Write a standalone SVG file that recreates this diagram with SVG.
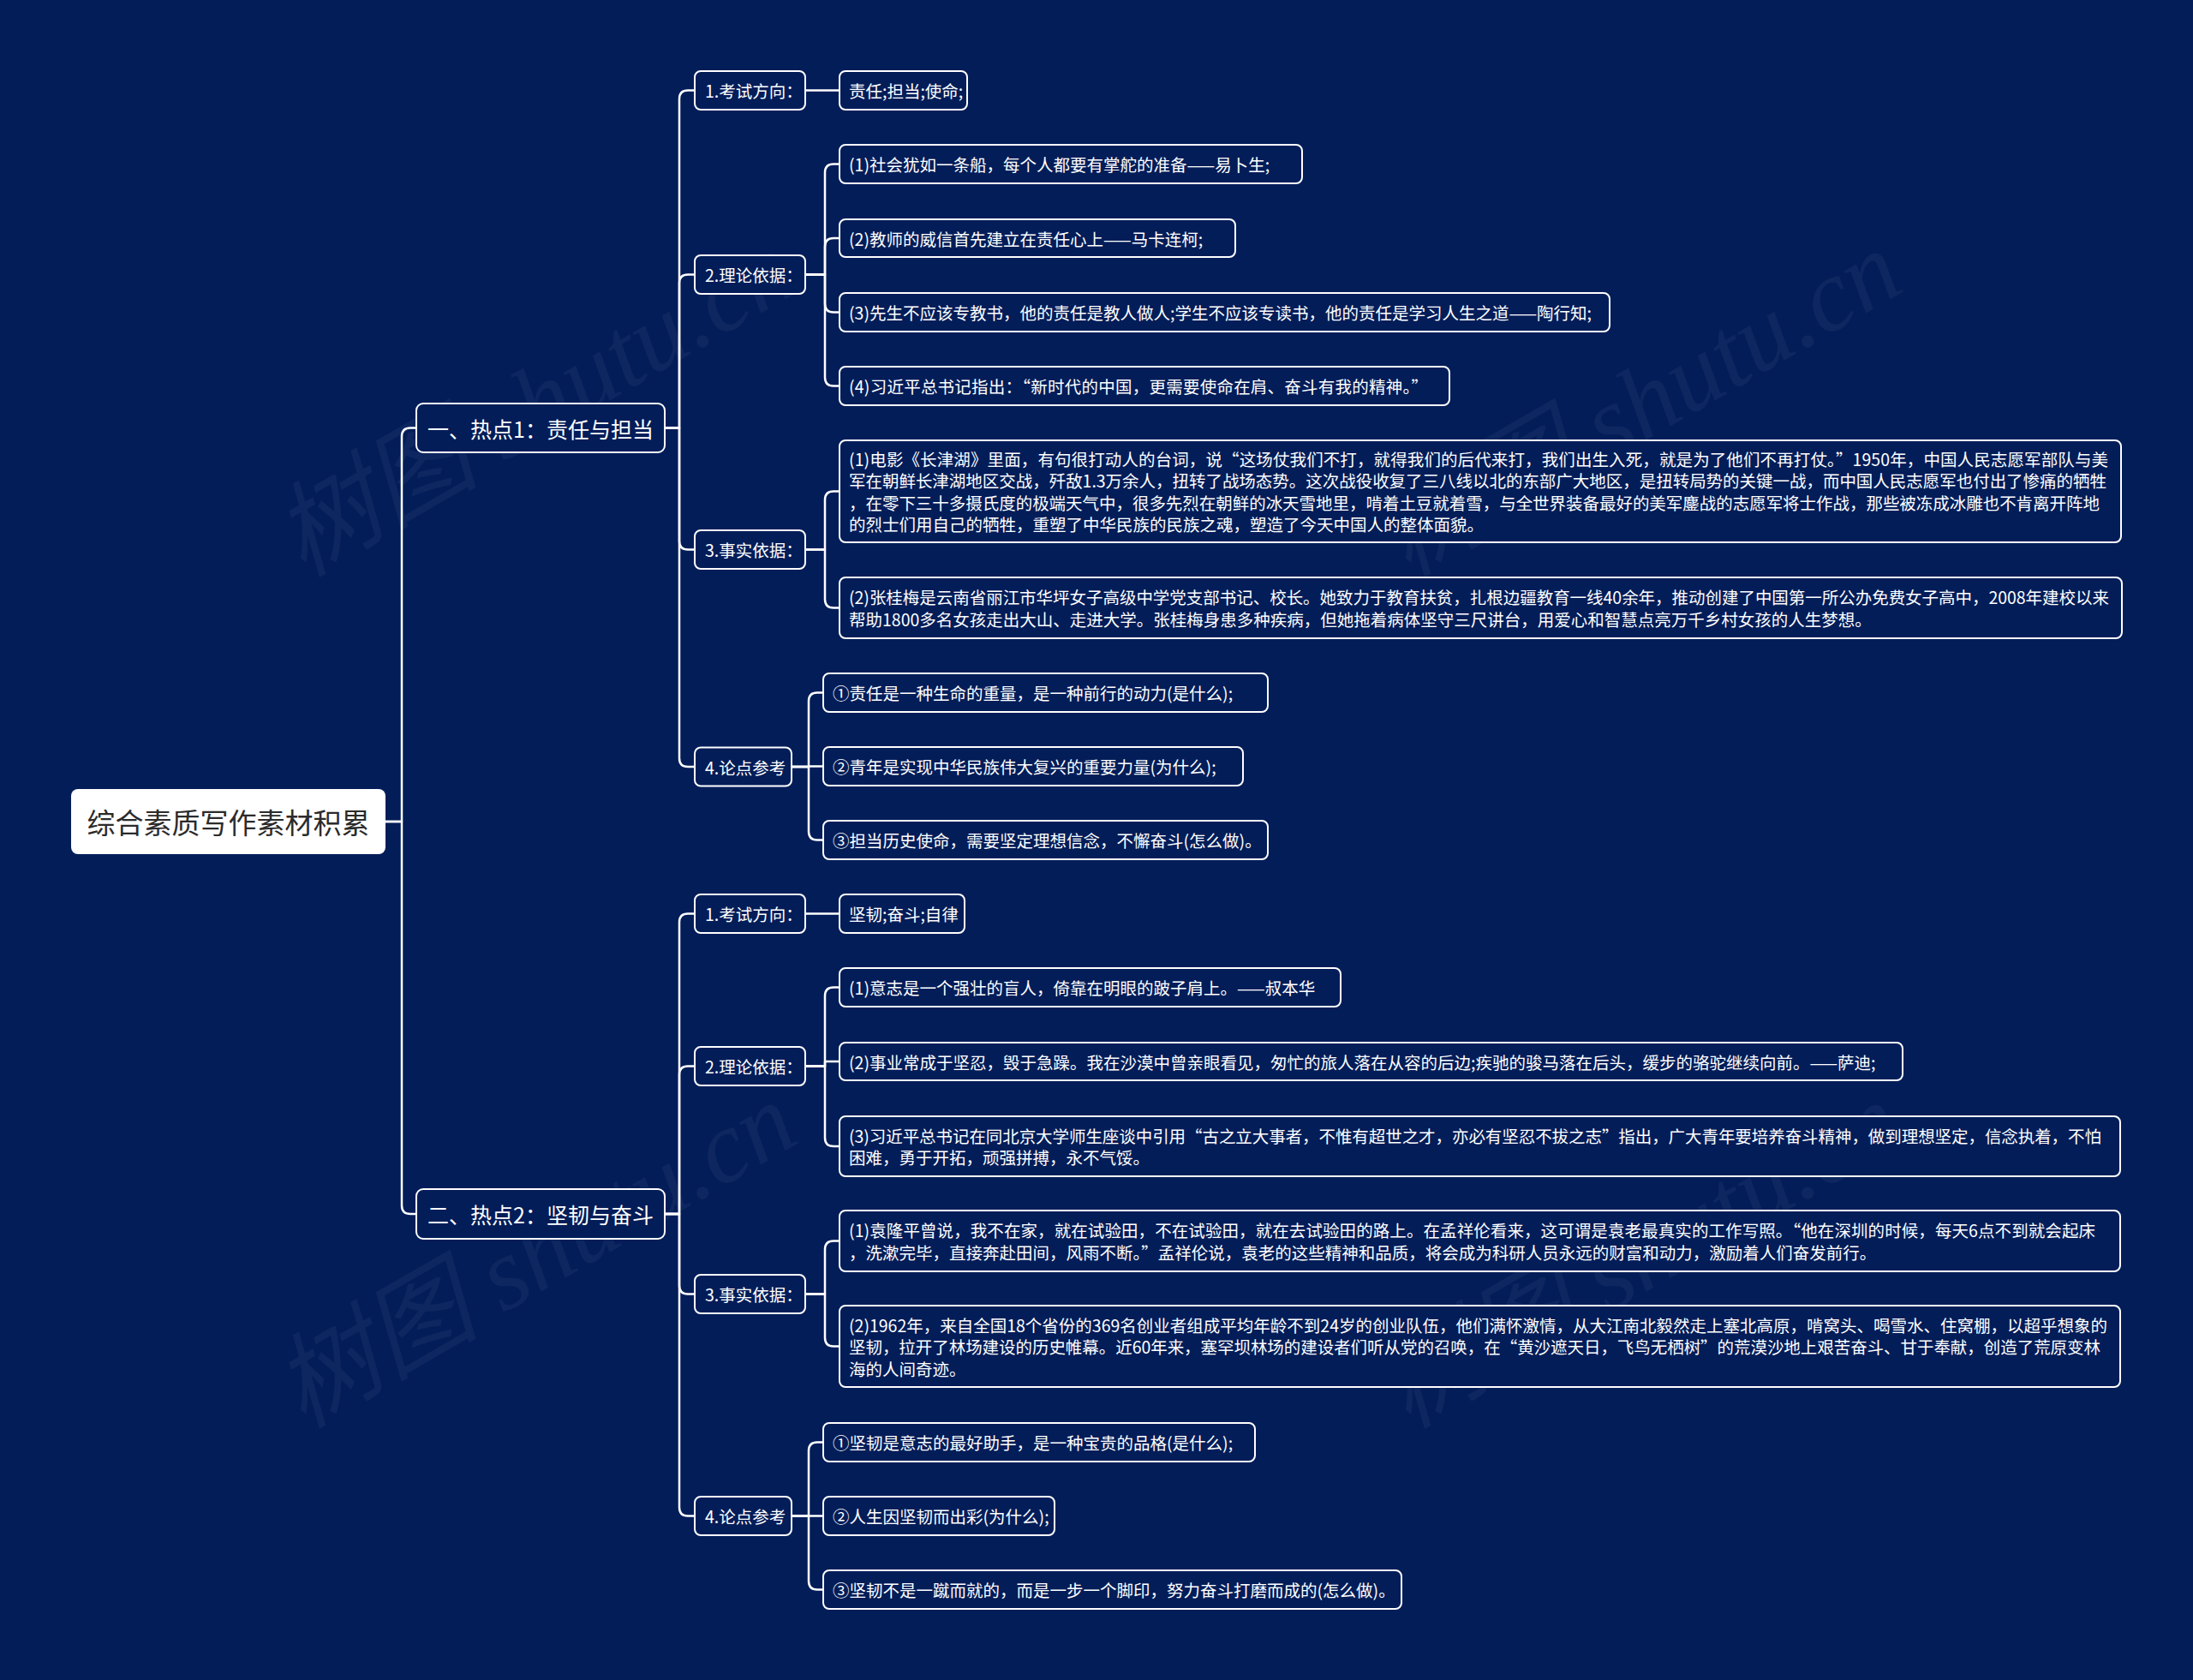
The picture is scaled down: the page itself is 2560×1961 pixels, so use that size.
<svg xmlns="http://www.w3.org/2000/svg" width="2560" height="1961" viewBox="0 0 2560 1961">
<style>
.bg{fill:#031d59}
.box{fill:#031d59;stroke:#ffffff;stroke-width:2}
.rootbox{fill:#ffffff;stroke:none}
.t{fill:#ffffff;font-family:"Noto Sans CJK SC","Noto Sans",sans-serif;font-size:19.5px;dominant-baseline:central}
.t1{font-size:25px}
.tr{fill:#2b2b2b;font-family:"Noto Sans CJK SC","Noto Sans",sans-serif;font-size:33px;dominant-baseline:central}
.conn{fill:none;stroke:#ffffff;stroke-width:2.5;stroke-linejoin:round}
.wm{fill:#ffffff;opacity:0.045;font-family:"Liberation Serif","Noto Sans CJK SC",serif;font-size:120px;font-style:italic}
</style>
<rect class="bg" x="0" y="0" width="2560" height="1961"/>
<g id="watermarks">
<text class="wm" text-anchor="middle" transform="translate(645,506) rotate(-30)">树图 shutu.cn</text>
<text class="wm" text-anchor="middle" transform="translate(1935,506) rotate(-30)">树图 shutu.cn</text>
<text class="wm" text-anchor="middle" transform="translate(645,1500) rotate(-30)">树图 shutu.cn</text>
<text class="wm" text-anchor="middle" transform="translate(1935,1500) rotate(-30)">树图 shutu.cn</text>
</g>
<g id="connectors">
<path class="conn" d="M450 959 H469 V509.5 Q469 499.5 479 499.5 H486"/>
<path class="conn" d="M450 959 H469 V1407 Q469 1417 479 1417 H486"/>
<path class="conn" d="M776 499.5 H793 V115.5 Q793 105.5 803 105.5 H811"/>
<path class="conn" d="M776 499.5 H793 V330.5 Q793 320.5 803 320.5 H811"/>
<path class="conn" d="M776 499.5 H793 V631.5 Q793 641.5 803 641.5 H811"/>
<path class="conn" d="M776 499.5 H793 V885 Q793 895 803 895 H811"/>
<path class="conn" d="M776 1417 H793 V1076.5 Q793 1066.5 803 1066.5 H811"/>
<path class="conn" d="M776 1417 H793 V1254.5 Q793 1244.5 803 1244.5 H811"/>
<path class="conn" d="M776 1417 H793 V1500.5 Q793 1510.5 803 1510.5 H811"/>
<path class="conn" d="M776 1417 H793 V1759.5 Q793 1769.5 803 1769.5 H811"/>
<path class="conn" d="M940 105.5 H980"/>
<path class="conn" d="M940 320.5 H963 V201.5 Q963 191.5 973 191.5 H980"/>
<path class="conn" d="M940 320.5 H963 V288 Q963 278 973 278 H980"/>
<path class="conn" d="M940 320.5 H963 V354.5 Q963 364.5 973 364.5 H980"/>
<path class="conn" d="M940 320.5 H963 V440.5 Q963 450.5 973 450.5 H980"/>
<path class="conn" d="M940 641.5 H963 V583.5 Q963 573.5 973 573.5 H980"/>
<path class="conn" d="M940 641.5 H963 V699.5 Q963 709.5 973 709.5 H980"/>
<path class="conn" d="M924 895 H944 V818.5 Q944 808.5 954 808.5 H961"/>
<path class="conn" d="M924 895 H944 V894.5 H961"/>
<path class="conn" d="M924 895 H944 V970.5 Q944 980.5 954 980.5 H961"/>
<path class="conn" d="M940 1066.5 H980"/>
<path class="conn" d="M940 1244.5 H963 V1162.5 Q963 1152.5 973 1152.5 H980"/>
<path class="conn" d="M940 1244.5 H963 V1239 H980"/>
<path class="conn" d="M940 1244.5 H963 V1328 Q963 1338 973 1338 H980"/>
<path class="conn" d="M940 1510.5 H963 V1458.5 Q963 1448.5 973 1448.5 H980"/>
<path class="conn" d="M940 1510.5 H963 V1561.5 Q963 1571.5 973 1571.5 H980"/>
<path class="conn" d="M924 1769.5 H944 V1693.5 Q944 1683.5 954 1683.5 H961"/>
<path class="conn" d="M924 1769.5 H961"/>
<path class="conn" d="M924 1769.5 H944 V1845.5 Q944 1855.5 954 1855.5 H961"/>
</g>
<g id="root"><rect class="rootbox" x="83" y="921" width="367" height="76" rx="8"/><text class="tr" x="266.5" y="959" text-anchor="middle">综合素质写作素材积累</text></g>
<g id="n-a"><rect class="box" x="486" y="471" width="290" height="57" rx="8"/><text class="t t1" x="631" y="499.5" text-anchor="middle">一、热点1：责任与担当</text></g>
<g id="n-b"><rect class="box" x="486" y="1388" width="290" height="58" rx="8"/><text class="t t1" x="631" y="1417" text-anchor="middle">二、热点2：坚韧与奋斗</text></g>
<g id="n-a1"><rect class="box" x="811" y="83" width="129" height="45" rx="7"/><text class="t" x="823" y="105.5">1.考试方向：</text></g>
<g id="n-a2"><rect class="box" x="811" y="298" width="129" height="45" rx="7"/><text class="t" x="823" y="320.5">2.理论依据：</text></g>
<g id="n-a3"><rect class="box" x="811" y="619" width="129" height="45" rx="7"/><text class="t" x="823" y="641.5">3.事实依据：</text></g>
<g id="n-a4"><rect class="box" x="811" y="872.5" width="113" height="45" rx="7"/><text class="t" x="823" y="895">4.论点参考</text></g>
<g id="n-b1"><rect class="box" x="811" y="1044" width="129" height="45" rx="7"/><text class="t" x="823" y="1066.5">1.考试方向：</text></g>
<g id="n-b2"><rect class="box" x="811" y="1222" width="129" height="45" rx="7"/><text class="t" x="823" y="1244.5">2.理论依据：</text></g>
<g id="n-b3"><rect class="box" x="811" y="1488" width="129" height="45" rx="7"/><text class="t" x="823" y="1510.5">3.事实依据：</text></g>
<g id="n-b4"><rect class="box" x="811" y="1747" width="113" height="45" rx="7"/><text class="t" x="823" y="1769.5">4.论点参考</text></g>
<g id="n-a1a"><rect class="box" x="980" y="83" width="149" height="45" rx="7"/><text class="t" x="991" y="105.5">责任;担当;使命;</text></g>
<g id="n-a2a"><rect class="box" x="980" y="169" width="540" height="45" rx="7"/><text class="t" x="991" y="191.5">(1)社会犹如一条船，每个人都要有掌舵的准备——易卜生;</text></g>
<g id="n-a2b"><rect class="box" x="980" y="256" width="462" height="44" rx="7"/><text class="t" x="991" y="278">(2)教师的威信首先建立在责任心上——马卡连柯;</text></g>
<g id="n-a2c"><rect class="box" x="980" y="342" width="899" height="45" rx="7"/><text class="t" x="991" y="364.5">(3)先生不应该专教书，他的责任是教人做人;学生不应该专读书，他的责任是学习人生之道——陶行知;</text></g>
<g id="n-a2d"><rect class="box" x="980" y="428" width="712" height="45" rx="7"/><text class="t" x="991" y="450.5" textLength="676" lengthAdjust="spacing">(4)习近平总书记指出：“新时代的中国，更需要使命在肩、奋斗有我的精神。”</text></g>
<g id="n-a3a"><rect class="box" x="980" y="514" width="1496" height="119" rx="7"/>
<text class="t" x="991" y="535.25" textLength="1470" lengthAdjust="spacing">(1)电影《长津湖》里面，有句很打动人的台词，说“这场仗我们不打，就得我们的后代来打，我们出生入死，就是为了他们不再打仗。”1950年，中国人民志愿军部队与美</text>
<text class="t" x="991" y="560.75" textLength="1468" lengthAdjust="spacing">军在朝鲜长津湖地区交战，歼敌1.3万余人，扭转了战场态势。这次战役收复了三八线以北的东部广大地区，是扭转局势的关键一战，而中国人民志愿军也付出了惨痛的牺牲</text>
<text class="t" x="991" y="586.25" textLength="1460" lengthAdjust="spacing">，在零下三十多摄氏度的极端天气中，很多先烈在朝鲜的冰天雪地里，啃着土豆就着雪，与全世界装备最好的美军鏖战的志愿军将士作战，那些被冻成冰雕也不肯离开阵地</text>
<text class="t" x="991" y="611.75">的烈士们用自己的牺牲，重塑了中华民族的民族之魂，塑造了今天中国人的整体面貌。</text></g>
<g id="n-a3b"><rect class="box" x="980" y="674" width="1497" height="71" rx="7"/>
<text class="t" x="991" y="696.75" textLength="1471" lengthAdjust="spacing">(2)张桂梅是云南省丽江市华坪女子高级中学党支部书记、校长。她致力于教育扶贫，扎根边疆教育一线40余年，推动创建了中国第一所公办免费女子高中，2008年建校以来</text>
<text class="t" x="991" y="722.25">帮助1800多名女孩走出大山、走进大学。张桂梅身患多种疾病，但她拖着病体坚守三尺讲台，用爱心和智慧点亮万千乡村女孩的人生梦想。</text></g>
<g id="n-a4a"><rect class="box" x="961" y="786" width="519" height="45" rx="7"/><text class="t" x="972" y="808.5">①责任是一种生命的重量，是一种前行的动力(是什么);</text></g>
<g id="n-a4b"><rect class="box" x="961" y="872" width="490" height="45" rx="7"/><text class="t" x="972" y="894.5">②青年是实现中华民族伟大复兴的重要力量(为什么);</text></g>
<g id="n-a4c"><rect class="box" x="961" y="958" width="519" height="45" rx="7"/><text class="t" x="972" y="980.5">③担当历史使命，需要坚定理想信念，不懈奋斗(怎么做)。</text></g>
<g id="n-b1a"><rect class="box" x="980" y="1044" width="146" height="45" rx="7"/><text class="t" x="991" y="1066.5">坚韧;奋斗;自律</text></g>
<g id="n-b2a"><rect class="box" x="980" y="1130" width="585" height="45" rx="7"/><text class="t" x="991" y="1152.5">(1)意志是一个强壮的盲人，倚靠在明眼的跛子肩上。——叔本华</text></g>
<g id="n-b2b"><rect class="box" x="980" y="1217" width="1241" height="44" rx="7"/><text class="t" x="991" y="1239">(2)事业常成于坚忍，毁于急躁。我在沙漠中曾亲眼看见，匆忙的旅人落在从容的后边;疾驰的骏马落在后头，缓步的骆驼继续向前。——萨迪;</text></g>
<g id="n-b2c"><rect class="box" x="980" y="1303" width="1495" height="70" rx="7"/>
<text class="t" x="991" y="1325.25" textLength="1462" lengthAdjust="spacing">(3)习近平总书记在同北京大学师生座谈中引用“古之立大事者，不惟有超世之才，亦必有坚忍不拔之志”指出，广大青年要培养奋斗精神，做到理想坚定，信念执着，不怕</text>
<text class="t" x="991" y="1350.75">困难，勇于开拓，顽强拼搏，永不气馁。</text></g>
<g id="n-b3a"><rect class="box" x="980" y="1413" width="1495" height="71" rx="7"/>
<text class="t" x="991" y="1435.75" textLength="1455" lengthAdjust="spacing">(1)袁隆平曾说，我不在家，就在试验田，不在试验田，就在去试验田的路上。在孟祥伦看来，这可谓是袁老最真实的工作写照。“他在深圳的时候，每天6点不到就会起床</text>
<text class="t" x="991" y="1461.25">，洗漱完毕，直接奔赴田间，风雨不断。”孟祥伦说，袁老的这些精神和品质，将会成为科研人员永远的财富和动力，激励着人们奋发前行。</text></g>
<g id="n-b3b"><rect class="box" x="980" y="1524" width="1495" height="95" rx="7"/>
<text class="t" x="991" y="1546" textLength="1469" lengthAdjust="spacing">(2)1962年，来自全国18个省份的369名创业者组成平均年龄不到24岁的创业队伍，他们满怀激情，从大江南北毅然走上塞北高原，啃窝头、喝雪水、住窝棚，以超乎想象的</text>
<text class="t" x="991" y="1571.5" textLength="1461" lengthAdjust="spacing">坚韧，拉开了林场建设的历史帷幕。近60年来，塞罕坝林场的建设者们听从党的召唤，在“黄沙遮天日，飞鸟无栖树”的荒漠沙地上艰苦奋斗、甘于奉献，创造了荒原变林</text>
<text class="t" x="991" y="1597">海的人间奇迹。</text></g>
<g id="n-b4a"><rect class="box" x="961" y="1661" width="504" height="45" rx="7"/><text class="t" x="972" y="1683.5">①坚韧是意志的最好助手，是一种宝贵的品格(是什么);</text></g>
<g id="n-b4b"><rect class="box" x="961" y="1747" width="270" height="45" rx="7"/><text class="t" x="972" y="1769.5">②人生因坚韧而出彩(为什么);</text></g>
<g id="n-b4c"><rect class="box" x="961" y="1833" width="675" height="45" rx="7"/><text class="t" x="972" y="1855.5">③坚韧不是一蹴而就的，而是一步一个脚印，努力奋斗打磨而成的(怎么做)。</text></g>
</svg>
